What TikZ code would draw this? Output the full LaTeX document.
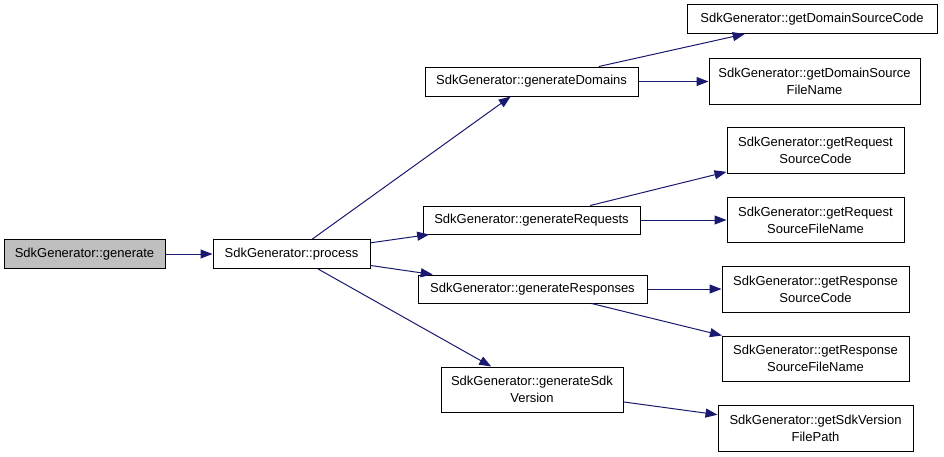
\documentclass[tikz,border=0pt]{standalone}
\usepackage{fontspec}
\setmainfont{Liberation Sans}
\usetikzlibrary{arrows.meta}
\definecolor{edgeblue}{HTML}{191970}
\definecolor{grayfill}{HTML}{BFBFBF}
\begin{document}
\begin{tikzpicture}[x=1pt,y=-1pt,
  fn/.style={draw=black, line width=1pt, fill=white, inner sep=0pt, align=center,
    font=\fontsize{13}{17}\selectfont},
  cur/.style={fn, fill=grayfill},
  call/.style={draw=edgeblue, line width=1pt, -{Triangle[length=12pt,width=9pt]}}]
\useasboundingbox (0,0) rectangle (944,456);
\node[cur, minimum width=161pt, minimum height=29pt] (gen) at (84.5,254) {SdkGenerator::generate};
\node[fn, minimum width=157pt, minimum height=29pt] (proc) at (291.5,254) {SdkGenerator::process};
\node[fn, minimum width=213pt, minimum height=29pt] (gd) at (531.5,81.5) {SdkGenerator::generateDomains};
\node[fn, minimum width=217pt, minimum height=28pt] (greq) at (531.5,220) {SdkGenerator::generateRequests};
\node[fn, minimum width=229pt, minimum height=28pt] (gresp) at (532.5,289) {SdkGenerator::generateResponses};
\node[fn, minimum width=182pt, minimum height=45pt] (gsdk) at (532,389.5) {SdkGenerator::generateSdk\\Version};
\node[fn, minimum width=250pt, minimum height=29pt] (dsc) at (812,19) {SdkGenerator::getDomainSourceCode};
\node[fn, minimum width=211pt, minimum height=46pt] (dsfn) at (814.5,81.5) {SdkGenerator::getDomainSource\\FileName};
\node[fn, minimum width=177pt, minimum height=46pt] (rsc) at (815.5,150) {SdkGenerator::getRequest\\SourceCode};
\node[fn, minimum width=177pt, minimum height=45pt] (rsfn) at (815.5,220) {SdkGenerator::getRequest\\SourceFileName};
\node[fn, minimum width=187pt, minimum height=46pt] (psc) at (815.5,289) {SdkGenerator::getResponse\\SourceCode};
\node[fn, minimum width=187pt, minimum height=45pt] (psfn) at (815.5,358.5) {SdkGenerator::getResponse\\SourceFileName};
\node[fn, minimum width=195pt, minimum height=46pt] (svfp) at (815.5,428) {SdkGenerator::getSdkVersion\\FilePath};
\draw[call] (gen) -- (proc);
\draw[call] (proc) -- (gd);
\draw[call] (proc) -- (greq);
\draw[call] (proc) -- (gresp);
\draw[call] (proc) -- (gsdk);
\draw[call] (gd) -- (dsc);
\draw[call] (gd) -- (dsfn);
\draw[call] (greq) -- (rsc);
\draw[call] (greq) -- (rsfn);
\draw[call] (gresp) -- (psc);
\draw[call] (gresp) -- (psfn);
\draw[call] (gsdk) -- (svfp);
\end{tikzpicture}
\end{document}
